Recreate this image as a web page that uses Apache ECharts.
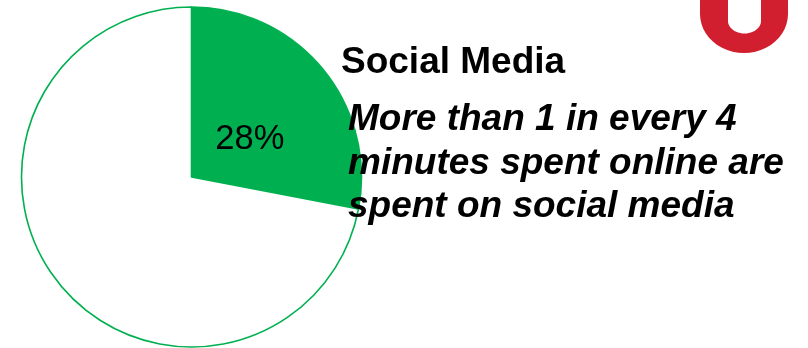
<!DOCTYPE html>
<html>
<head>
<meta charset="utf-8">
<script src="https://cdn.jsdelivr.net/npm/echarts@6/dist/echarts.min.js"></script>
<style>
html,body{margin:0;padding:0;background:#fff;}
#chart{width:808px;height:348px;}
</style>
</head>
<body>
<div id="chart"></div>
<script>
var categories = ['Social media', 'Other'];
var shares = [28, 72];
var sliceColors = ['#00B050', '#FFFFFF'];
var title = 'Social Media';
var captionLines = ['More than 1 in every 4', 'minutes spent online are', 'spent on social media'];

var chart = echarts.init(document.getElementById('chart'), null, {renderer: 'canvas'});
var font = '"Liberation Sans", Arial, Helvetica, sans-serif';

var data = categories.map(function (c, i) {
  return {
    name: c,
    value: shares[i],
    itemStyle: {color: sliceColors[i]},
    label: {show: i === 0}
  };
});

// decorative red "U" logo fragment at top right
function logoPoints() {
  var pts = [[788, 0]];
  var n = 24, k, a;
  for (k = 0; k <= n; k++) {
    a = Math.PI * k / n;
    pts.push([744 + 44 * Math.cos(a), 14 + 39 * Math.sin(a)]);
  }
  pts.push([700, 0]);
  pts.push([728, 0]);
  for (k = n; k >= 0; k--) {
    a = Math.PI * k / n;
    pts.push([744.5 + 16.5 * Math.cos(a), 21 + 12.5 * Math.sin(a)]);
  }
  pts.push([761, 0]);
  return pts;
}

var graphics = [
  {type: 'polygon', z: 10, shape: {points: logoPoints()}, style: {fill: '#D21F2F'}},
  {type: 'text', z: 20, x: 341, y: 63, style: {text: title, font: 'bold 37px ' + font, fill: '#000', verticalAlign: 'middle', align: 'left'}}
];
var baseY = [119.5, 163.5, 207];
captionLines.forEach(function (t, i) {
  graphics.push({type: 'text', z: 20, x: 348, y: baseY[i], style: {text: t, font: 'italic bold 37px ' + font, fill: '#000', verticalAlign: 'middle', align: 'left'}});
});

chart.setOption({
  animation: false,
  backgroundColor: '#fff',
  series: [{
    type: 'pie',
    center: [191.5, 177],
    radius: 170,
    startAngle: 90,
    clockwise: true,
    silent: true,
    itemStyle: {borderColor: '#00B050', borderWidth: 1.6},
    label: {
      position: 'inside',
      formatter: '{c}%',
      fontFamily: font,
      fontSize: 34.5,
      color: '#000',
      offset: [-9.5, 19]
    },
    labelLine: {show: false},
    emphasis: {disabled: true},
    data: data
  }],
  graphic: graphics
});
</script>
</body>
</html>
